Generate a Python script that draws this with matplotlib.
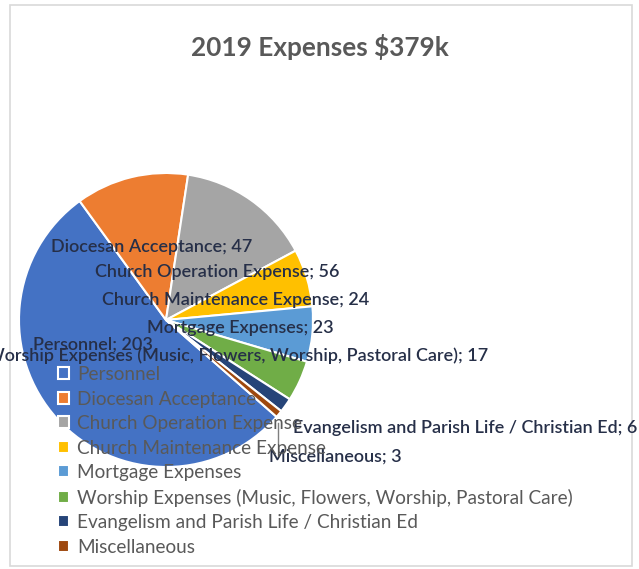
import matplotlib
matplotlib.use("Agg")
import matplotlib.pyplot as plt
from matplotlib.lines import Line2D
from matplotlib.patches import Rectangle

# ---- data ----
categories = ["Personnel", "Diocesan Acceptance", "Church Operation Expense",
              "Church Maintenance Expense", "Mortgage Expenses",
              "Worship Expenses (Music, Flowers, Worship, Pastoral Care)",
              "Evangelism and Parish Life / Christian Ed", "Miscellaneous"]
values = [203, 47, 56, 24, 23, 17, 6, 3]
title = "2019 Expenses $379k"

# ---- style ----
colors = ["#4472C4", "#ED7D31", "#A5A5A5", "#FFC000", "#5B9BD5",
          "#70AD47", "#264478", "#9E480E"]
W, H = 639, 569
FONT = "Lato"
label_color = "#262f48"
text_gray = "#595959"

# data label layout (figure pixels, from top-left): (x, y, ha)
label_pos = [(93, 345, "center"), (152, 247, "center"), (217, 272, "center"),
             (236, 300, "center"), (240, 328, "center"), (488, 356, "right"),
             (293, 428, "left"), (335, 457, "center")]

plt.rcParams['font.family'] = [FONT, 'DejaVu Sans']
fig = plt.figure(figsize=(W / 100, H / 100), dpi=100)
fig.patch.set_facecolor("white")

# chart border
fig.add_artist(Rectangle((10 / W, 1 - 566 / H), 622 / W, 561 / H,
                         transform=fig.transFigure, fill=False,
                         edgecolor="#d9d9d9", linewidth=1.2))

cx, cy, r = 166, 320, 147
ax = fig.add_axes([(cx - r) / W, (H - cy - r) / H, 2 * r / W, 2 * r / H])
wedges, _ = ax.pie(values, colors=colors, startangle=90 - 131.2,
                   counterclock=False, radius=1,
                   wedgeprops=dict(edgecolor="white", linewidth=1.5))
ax.set_xlim(-1, 1)
ax.set_ylim(-1, 1)
ax.set_aspect("equal")
ax.axis("off")

fig.text(0.5, 1 - 47 / H, title, ha="center", va="center",
         fontsize=18.8, fontweight="bold", color=text_gray)

leg = fig.legend(wedges, categories, loc="upper left",
                 bbox_to_anchor=(58 / W, 1 - 366 / H), frameon=False,
                 fontsize=13.7, labelspacing=0.395, handlelength=0.6,
                 handleheight=0.6, handletextpad=0.4, borderpad=0,
                 borderaxespad=0)
for t in leg.get_texts():
    t.set_color(text_gray)

# leader line for Miscellaneous
fig.add_artist(Line2D([278 / W, 278 / W], [1 - 423 / H, 1 - 443 / H],
                      transform=fig.transFigure, color="#7f7f7f", lw=1))

for cat, v, (x, y, ha) in zip(categories, values, label_pos):
    fig.text(x / W, 1 - y / H, f"{cat}; {v}", ha=ha, va="center",
             fontsize=13, fontweight="semibold", color=label_color)

fig.savefig("out.png", dpi=100)
